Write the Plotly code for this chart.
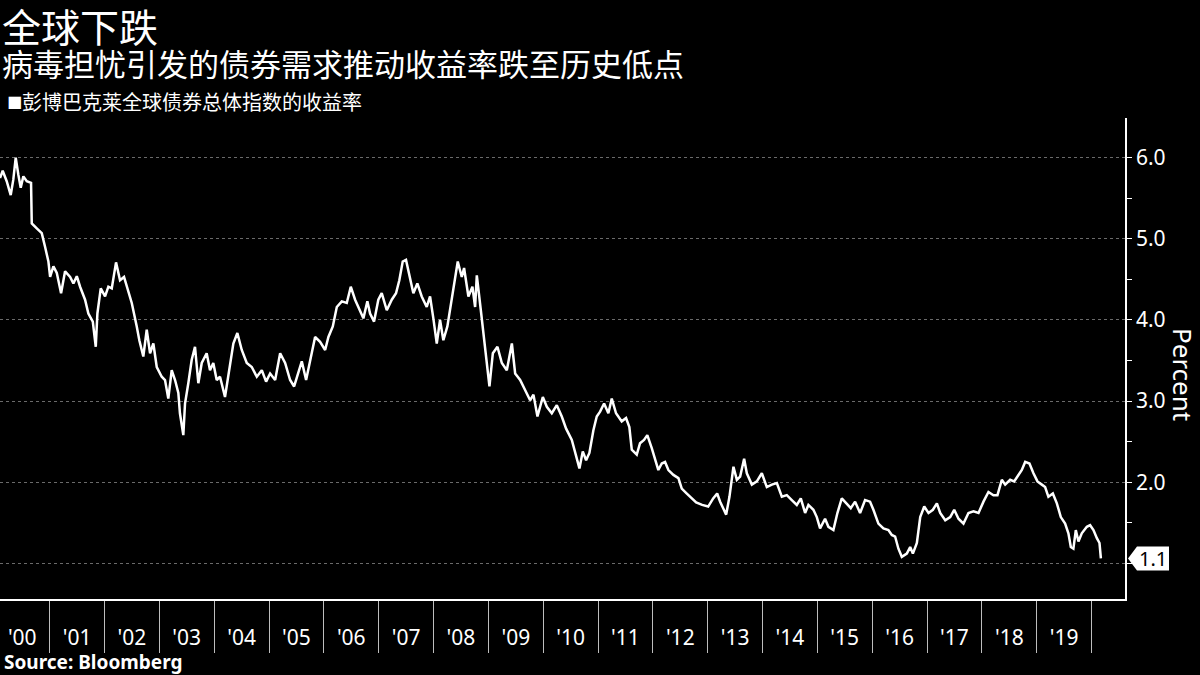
import plotly.graph_objects as go
import pandas as pd

TITLE = "全球下跌"
SUBTITLE = "病毒担忧引发的债券需求推动收益率跌至历史低点"
SERIES_NAME = "彭博巴克莱全球债券总体指数的收益率"
SOURCE = "Source: Bloomberg"
Y_TITLE = "Percent"

# decimal years
years = [
    2000.095, 2000.144, 2000.217, 2000.290, 2000.337, 2000.381, 2000.429, 2000.472, 2000.520, 2000.582,
    2000.660, 2000.673, 2000.764, 2000.855, 2000.916, 2000.976, 2001.007, 2001.067, 2001.129, 2001.207,
    2001.280, 2001.372, 2001.432, 2001.494, 2001.554, 2001.645, 2001.705, 2001.786, 2001.840, 2001.870,
    2001.931, 2002.010, 2002.070, 2002.132, 2002.210, 2002.283, 2002.356, 2002.435, 2002.497, 2002.588,
    2002.635, 2002.708, 2002.770, 2002.831, 2002.891, 2002.953, 2003.044, 2003.104, 2003.164, 2003.226,
    2003.287, 2003.347, 2003.376, 2003.438,
    2003.469, 2003.529, 2003.591, 2003.651, 2003.712, 2003.774, 2003.864, 2003.925, 2003.985, 2004.047,
    2004.107, 2004.198, 2004.290, 2004.350, 2004.423, 2004.503, 2004.594, 2004.685, 2004.777, 2004.868,
    2004.946, 2005.019, 2005.111, 2005.202, 2005.293, 2005.384, 2005.457, 2005.535, 2005.597, 2005.676,
    2005.749, 2005.840, 2005.931, 2006.023, 2006.083, 2006.163, 2006.236, 2006.327, 2006.418, 2006.491,
    2006.570, 2006.661,
    2006.721, 2006.794, 2006.843, 2006.916, 2006.994, 2007.056, 2007.148, 2007.239, 2007.317, 2007.377,
    2007.439, 2007.499, 2007.560, 2007.633, 2007.706, 2007.786, 2007.877, 2007.938, 2007.998, 2008.060,
    2008.120, 2008.180, 2008.253, 2008.333, 2008.393, 2008.442, 2008.515, 2008.557, 2008.636, 2008.709,
    2008.758, 2008.789, 2008.862, 2008.922, 2008.971, 2009.019, 2009.081, 2009.165, 2009.245, 2009.336,
    2009.428, 2009.488, 2009.579, 2009.670, 2009.761, 2009.822, 2009.895, 2009.993, 2010.066,
    2010.157, 2010.248, 2010.339, 2010.418, 2010.522, 2010.600, 2010.661, 2010.722, 2010.783, 2010.843,
    2010.916, 2010.977, 2011.038, 2011.111, 2011.189, 2011.251, 2011.329, 2011.433, 2011.512, 2011.572,
    2011.616, 2011.707, 2011.767, 2011.840, 2011.900, 2011.981, 2012.041, 2012.101, 2012.163, 2012.223,
    2012.284, 2012.375, 2012.466, 2012.527, 2012.619, 2012.710, 2012.789, 2012.898, 2013.008, 2013.099,
    2013.172,
    2013.226, 2013.287, 2013.336, 2013.396, 2013.469, 2013.531, 2013.591, 2013.664, 2013.713, 2013.805,
    2013.896, 2013.987, 2014.078, 2014.170, 2014.261, 2014.352, 2014.443, 2014.534, 2014.625, 2014.698,
    2014.777, 2014.837, 2014.928, 2014.990, 2015.050, 2015.141, 2015.202, 2015.293, 2015.366, 2015.446,
    2015.524, 2015.610, 2015.689, 2015.780, 2015.871, 2015.962, 2016.023, 2016.114, 2016.205, 2016.296,
    2016.358, 2016.418, 2016.478, 2016.540, 2016.631,
    2016.692, 2016.741, 2016.814, 2016.875, 2016.948, 2017.026, 2017.106, 2017.179, 2017.239, 2017.331,
    2017.422, 2017.495, 2017.573, 2017.664, 2017.755, 2017.847, 2017.938, 2018.029, 2018.120, 2018.211,
    2018.284, 2018.364, 2018.425, 2018.516, 2018.589, 2018.649, 2018.729, 2018.790, 2018.868, 2018.941,
    2019.014, 2019.094, 2019.154, 2019.214, 2019.295, 2019.368, 2019.440, 2019.519, 2019.579, 2019.623,
    2019.670, 2019.714, 2019.762, 2019.823, 2019.915, 2019.975, 2020.036, 2020.098, 2020.146, 2020.171,
]

# yield, percent
yields = [
    5.75, 5.84, 5.71, 5.54, 5.73, 6.00, 5.79, 5.63, 5.77, 5.71,
    5.69, 5.19, 5.13, 5.07, 4.90, 4.72, 4.53, 4.66, 4.58, 4.33,
    4.60, 4.53, 4.45, 4.54, 4.41, 4.25, 4.08, 3.98, 3.67, 4.08,
    4.39, 4.29, 4.41, 4.39, 4.71, 4.49, 4.53, 4.35, 4.21, 3.92,
    3.75, 3.55, 3.88, 3.59, 3.71, 3.42, 3.30, 3.26, 3.03, 3.38,
    3.26, 3.10, 2.85, 2.58,
    2.97, 3.22, 3.51, 3.67, 3.22, 3.47, 3.59, 3.38, 3.47, 3.26,
    3.30, 3.05, 3.47, 3.71, 3.84, 3.63, 3.47, 3.42, 3.30, 3.38,
    3.24, 3.34, 3.26, 3.59, 3.47, 3.26, 3.18, 3.34, 3.49, 3.26,
    3.51, 3.79, 3.73, 3.63, 3.79, 3.92, 4.16, 4.23, 4.21, 4.41,
    4.25, 4.12,
    4.02, 4.23, 4.08, 3.98, 4.25, 4.33, 4.12, 4.25, 4.33, 4.49,
    4.72, 4.74, 4.55, 4.33, 4.45, 4.29, 4.16, 4.29, 4.02, 3.71,
    4.00, 3.75, 3.92, 4.25, 4.49, 4.72, 4.53, 4.64, 4.29, 4.41,
    4.16, 4.55, 4.12, 3.79, 3.47, 3.18, 3.59, 3.67, 3.47, 3.38,
    3.71, 3.34, 3.26, 3.14, 3.01, 3.08, 2.81, 3.05, 2.93,
    2.85, 2.95, 2.81, 2.66, 2.52, 2.31, 2.17, 2.38, 2.27, 2.36,
    2.64, 2.81, 2.87, 2.97, 2.85, 3.03, 2.85, 2.75, 2.79, 2.68,
    2.40, 2.34, 2.48, 2.52, 2.58, 2.42, 2.27, 2.15, 2.23, 2.25,
    2.15, 2.09, 2.05, 1.92, 1.86, 1.80, 1.75, 1.72, 1.70, 1.80,
    1.86,
    1.76, 1.68, 1.60, 1.82, 2.19, 2.03, 2.07, 2.29, 2.11, 1.97,
    2.01, 2.11, 1.94, 1.97, 1.99, 1.82, 1.84, 1.78, 1.72, 1.80,
    1.62, 1.72, 1.66, 1.57, 1.43, 1.55, 1.45, 1.41, 1.62, 1.80,
    1.74, 1.68, 1.76, 1.62, 1.78, 1.76, 1.66, 1.49, 1.43, 1.41,
    1.35, 1.33, 1.18, 1.08, 1.12,
    1.20, 1.12, 1.25, 1.57, 1.70, 1.62, 1.66, 1.74, 1.62, 1.53,
    1.57, 1.66, 1.55, 1.49, 1.62, 1.64, 1.62, 1.76, 1.88, 1.84,
    1.84, 2.03, 1.97, 2.03, 2.01, 2.07, 2.15, 2.25, 2.23, 2.11,
    2.01, 1.97, 1.94, 1.82, 1.86, 1.74, 1.57, 1.49, 1.37, 1.20,
    1.18, 1.41, 1.27, 1.37, 1.45, 1.47, 1.41, 1.31, 1.25, 1.06,
]
assert len(years) == len(yields)

y_tick_vals = [1, 2, 3, 4, 5, 6]
y_tick_text = ["", "2.0", "3.0", "4.0", "5.0", "6.0"]
x_range_years = [2000.095, 2020.61]
y_range = [0.56, 6.49]


def dec_to_date(t):
    y = int(t)
    start = pd.Timestamp(y, 1, 1)
    end = pd.Timestamp(y + 1, 1, 1)
    return start + (end - start) * (t - y)


dates = [dec_to_date(t) for t in years]
x_range = [dec_to_date(t) for t in x_range_years]

CJK = "Noto Sans CJK SC"
LAT = "Noto Sans"
GRID = "#6a6a6a"

fig = go.Figure()
fig.add_trace(go.Scatter(
    x=dates, y=yields, mode="lines", name=SERIES_NAME,
    line=dict(color="white", width=2.5), showlegend=False,
))

fig.update_layout(
    width=1200, height=675,
    paper_bgcolor="black", plot_bgcolor="black",
    margin=dict(l=0, r=75, t=118, b=76),
    showlegend=False,
    xaxis=dict(
        type="date", range=x_range,
        tick0="2000-01-01", dtick="M12", tickformat="'%y",
        ticklabelmode="period", labelalias={"'20": ""},
        ticks="outside", ticklen=52, tickwidth=1, tickcolor="#bdbdbd",
        ticklabelstandoff=-33,
        showline=True, linecolor="white", linewidth=1.5,
        showgrid=False, zeroline=False,
        tickfont=dict(family=LAT, size=21, color="white"),
    ),
    xaxis2=dict(
        type="date", range=x_range, overlaying="x", anchor="y",
        tick0="2000-01-01", dtick="M24",
        showgrid=True, gridcolor=GRID, griddash="3px,3px", gridwidth=1,
        showticklabels=False, ticks="", showline=False, zeroline=False,
    ),
    yaxis=dict(
        side="right", range=y_range,
        tickmode="array", tickvals=y_tick_vals, ticktext=y_tick_text,
        ticks="outside", ticklen=5, tickcolor="white", tickwidth=1,
        minor=dict(dtick=0.5, ticks="outside", ticklen=5, tickcolor="white", showgrid=False),
        showline=True, linecolor="white", linewidth=1.5,
        showgrid=True, gridcolor=GRID, griddash="3px,3px", gridwidth=1,
        zeroline=False,
        tickfont=dict(family=LAT, size=21, color="white"),
    ),
)


def py(p):
    """pixel row (from top) -> paper y"""
    return (599 - p) / 481


# header texts
fig.add_annotation(text=TITLE, xref="paper", yref="paper", x=0, y=py(25),
                   xanchor="left", yanchor="middle", showarrow=False,
                   font=dict(family=CJK, size=39, color="white"))
fig.add_annotation(text=SUBTITLE, xref="paper", yref="paper", x=0, y=py(62),
                   xanchor="left", yanchor="middle", showarrow=False,
                   font=dict(family=CJK, size=31, color="white"))
fig.add_annotation(text="■", xref="paper", yref="paper", x=0.004, y=py(101),
                   xanchor="left", yanchor="middle", showarrow=False,
                   font=dict(family="DejaVu Sans", size=16, color="white"))
fig.add_annotation(text=SERIES_NAME, xref="paper", yref="paper", x=20 / 1125, y=py(101),
                   xanchor="left", yanchor="middle", showarrow=False,
                   font=dict(family=CJK, size=20, color="white"))
fig.add_annotation(text="<b>" + SOURCE + "</b>", xref="paper", yref="paper", x=2 / 1125, y=py(662),
                   xanchor="left", yanchor="middle", showarrow=False,
                   font=dict(family=LAT, size=19, color="white"))
fig.add_annotation(text=Y_TITLE, xref="paper", yref="paper", x=1183 / 1125, y=py(374),
                   xanchor="center", yanchor="middle", showarrow=False, textangle=90,
                   font=dict(family=LAT, size=26, color="white"))

# last-value tag
last = yields[-1]
last_paper = (last - y_range[0]) / (y_range[1] - y_range[0])
fig.add_shape(type="path", xref="paper", yref="paper",
              xsizemode="pixel", ysizemode="pixel", xanchor=1, yanchor=last_paper,
              path="M 3 0 L 12 12 L 44 12 L 44 -12 L 12 -12 Z",
              fillcolor="white", line=dict(width=0))
fig.add_annotation(text=f"{last:.1f}", xref="paper", yref="y", x=1, y=last,
                   xanchor="center", yanchor="middle", xshift=28, showarrow=False,
                   font=dict(family=LAT, size=20, color="black"))

fig.write_html("out.html")
